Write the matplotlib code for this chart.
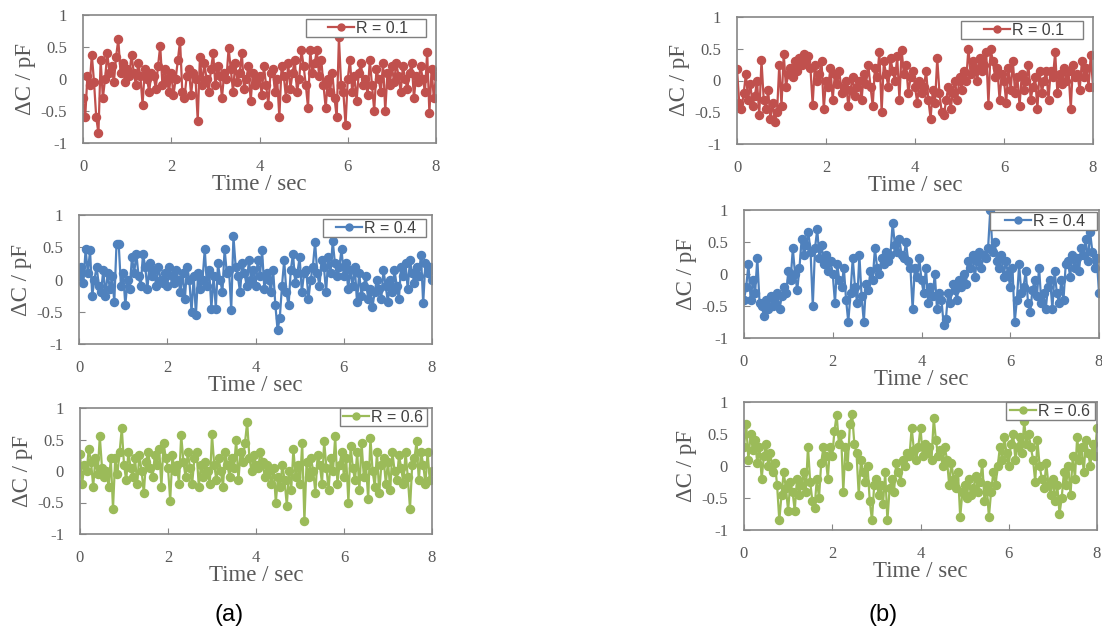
import numpy as np
import matplotlib.pyplot as plt
from matplotlib.ticker import FuncFormatter
from matplotlib.patches import Rectangle
from matplotlib.transforms import IdentityTransform

plt.rcParams['axes.unicode_minus'] = False

# time axis: 0 .. 8 s, 0.05 s step
t = np.arange(161) * 0.05

# (a) column
a_r01 = [-0.3, -0.6, 0.05, -0.1, 0.38, -0.05, -0.6, -0.85, 0.3, -0.3, 0.0, 0.4, 0.1, 0.2, -0.05, 0.35, 0.62, 0.1, 0.25, -0.05,
         0.15, 0.05, 0.38, 0.1, -0.1, 0.25, 0.05, -0.4, 0.15, 0.0, -0.2, 0.1, 0.05, -0.15, 0.2, 0.52, -0.1, 0.15, 0.0, -0.2,
         0.1, -0.25, 0.0, 0.3, 0.6, -0.2, -0.3, 0.05, 0.15, -0.25, 0.1, 0.0, -0.65, 0.35, -0.1, 0.25, 0.0, -0.2, 0.15, 0.4,
         -0.1, 0.2, 0.05, -0.3, 0.1, 0.0, 0.48, 0.15, -0.2, 0.25, -0.05, 0.1, 0.4, -0.15, 0.0, 0.2, -0.35, 0.1, -0.1, 0.0,
         0.05, -0.25, 0.2, -0.1, -0.4, 0.1, 0.15, -0.2, 0.0, -0.6, 0.2, 0.05, -0.3, 0.25, -0.15, 0.1, 0.3, -0.2, 0.0, 0.45,
         0.2, -0.1, -0.45, 0.45, 0.1, 0.25, 0.45, 0.05, 0.3, -0.1, -0.45, 0.0, -0.2, 0.1, -0.3, -0.6, 0.65, -0.1, -0.2, -0.72,
         0.0, 0.3, -0.2, 0.05, -0.35, 0.1, 0.25, -0.1, 0.0, -0.25, 0.3, -0.1, -0.5, 0.15, 0.0, -0.2, 0.25, -0.5, 0.1, -0.1,
         0.2, -0.05, 0.25, 0.05, -0.2, 0.2, 0.0, -0.15, 0.1, 0.25, -0.3, 0.05, -0.05, 0.2, 0.0, -0.2, 0.42, -0.53, 0.15, -0.3, 0.05]

a_r04 = [0.05, 0.2, -0.05, 0.47, 0.1, 0.45, -0.25, 0.0, 0.2, -0.1, -0.2, 0.15, -0.25, 0.1, -0.15, 0.05, -0.35, 0.55, 0.55, -0.1,
         0.1, -0.4, 0.0, -0.15, 0.35, 0.1, 0.4, 0.05, -0.1, 0.4, 0.2, -0.15, 0.25, 0.05, 0.15, -0.1, 0.2, 0.0, -0.05, 0.1,
         -0.1, 0.2, 0.05, -0.05, 0.15, 0.0, -0.2, 0.1, -0.3, 0.2, 0.0, -0.5, 0.05, -0.55, 0.1, -0.15, 0.0, 0.47, -0.1, 0.15,
         -0.45, 0.05, -0.45, 0.25, 0.0, -0.2, 0.47, 0.1, 0.15, -0.47, 0.67, 0.2, 0.05, -0.2, 0.25, 0.1, -0.1, 0.3, 0.0, 0.15,
         -0.1, 0.3, 0.05, 0.45, -0.15, 0.1, 0.0, -0.2, 0.15, -0.4, -0.78, -0.6, -0.1, 0.3, -0.2, -0.4, 0.15, 0.4, -0.05, 0.1,
         0.35, -0.2, 0.1, 0.15, -0.3, 0.0, 0.2, 0.58, 0.1, -0.1, 0.3, 0.2, -0.2, 0.35, 0.1, 0.6, 0.25, 0.05, 0.2, 0.47,
         0.05, 0.25, -0.15, 0.15, -0.1, 0.2, -0.35, 0.1, -0.25, -0.1, 0.05, -0.3, -0.15, -0.43, -0.2, 0.0, -0.15, -0.3, 0.15, -0.1,
         -0.35, 0.0, -0.2, 0.15, -0.1, -0.3, 0.2, 0.05, 0.25, -0.15, 0.3, 0.1, -0.05, 0.2, 0.05, 0.38, -0.37, 0.25, 0.1, 0.2, 0.0]

a_r06 = [0.27, -0.2, 0.1, 0.0, 0.35, 0.15, -0.25, 0.2, -0.05, 0.55, 0.05, -0.1, 0.0, -0.25, 0.2, -0.6, 0.2, -0.05, 0.3, 0.68,
         0.1, -0.15, 0.3, 0.05, -0.1, 0.2, -0.2, 0.25, 0.0, -0.35, 0.15, 0.3, 0.05, -0.1, 0.25, 0.1, 0.35, -0.25, 0.45, 0.2,
         0.05, -0.47, 0.25, 0.0, 0.1, -0.2, 0.57, 0.15, -0.1, 0.3, 0.05, -0.2, 0.2, 0.3, -0.25, 0.1, -0.1, 0.15, 0.0, -0.2,
         0.58, 0.1, -0.15, 0.2, 0.0, -0.25, 0.3, 0.1, -0.1, 0.2, 0.05, 0.5, -0.15, 0.3, 0.15, 0.45, 0.78, 0.2, 0.0, 0.25,
         0.1, 0.05, 0.3, 0.15, -0.1, 0.1, 0.0, -0.2, 0.05, -0.5, -0.1, -0.25, 0.1, -0.15, -0.55, 0.0, -0.3, 0.35, -0.1, 0.1,
         -0.2, 0.45, -0.8, 0.15, -0.1, 0.2, 0.0, -0.35, 0.25, 0.1, -0.2, 0.47, 0.05, -0.3, 0.2, 0.0, 0.55, -0.2, 0.1, 0.3,
         -0.1, 0.2, -0.5, 0.4, 0.05, -0.15, 0.3, -0.3, 0.45, -0.1, 0.1, -0.45, 0.53, 0.0, -0.25, 0.3, -0.35, 0.1, 0.2, -0.2,
         0.15, -0.3, 0.3, 0.0, -0.15, 0.25, 0.05, -0.2, 0.3, -0.1, -0.6, 0.1, 0.2, 0.47, -0.15, 0.3, 0.1, -0.2, 0.3, -0.15, 0.0]

# (b) column
b_r01 = [0.18, -0.35, -0.45, -0.2, 0.1, -0.3, -0.05, -0.4, -0.25, 0.0, -0.55, 0.32, -0.3, -0.45, -0.15, -0.6, -0.35, -0.65, -0.5, 0.25,
         -0.4, 0.42, -0.1, 0.1, 0.2, 0.05, 0.3, 0.15, 0.35, 0.25, 0.42, 0.3, 0.38, 0.2, -0.38, 0.25, 0.0, 0.1, 0.3, -0.45,
         0.0, -0.1, 0.2, -0.3, 0.1, -0.05, 0.15, -0.2, -0.1, 0.0, -0.4, -0.15, 0.05, -0.25, -0.1, 0.0, -0.3, 0.1, -0.05, 0.25,
         -0.1, -0.4, 0.2, 0.05, 0.45, -0.5, 0.3, 0.1, -0.1, 0.35, 0.15, 0.0, 0.38, -0.3, 0.48, 0.1, 0.25, -0.2, 0.05, 0.15,
         -0.1, -0.35, 0.0, -0.2, -0.1, 0.15, -0.3, -0.6, -0.15, -0.35, 0.35, -0.2, -0.5, -0.55, -0.3, -0.1, -0.45, -0.2, 0.0, -0.3,
         0.05, -0.15, 0.15, 0.0, 0.5, 0.1, 0.3, 0.2, 0.0, 0.35, 0.15, 0.25, 0.45, -0.38, 0.5, 0.3, 0.05, 0.2, -0.3, 0.1,
         0.0, -0.35, 0.2, -0.15, 0.3, -0.2, 0.05, -0.4, 0.1, -0.15, 0.0, 0.25, -0.3, -0.1, 0.05, -0.45, 0.15, -0.2, 0.0, 0.15,
         -0.3, 0.15, 0.05, 0.45, -0.2, 0.1, -0.05, 0.2, 0.0, 0.15, -0.45, 0.25, 0.05, 0.1, -0.15, 0.3, 0.05, 0.2, -0.1, 0.4, -0.1]

b_r04 = [-0.4, -0.2, 0.15, -0.4, -0.1, -0.3, 0.25, -0.45, -0.5, -0.65, -0.4, -0.55, -0.35, -0.5, -0.45, -0.3, -0.55, -0.35, -0.2, -0.3,
         0.05, -0.1, 0.4, 0.0, -0.25, 0.1, 0.55, 0.3, 0.45, 0.65, 0.35, -0.5, 0.4, 0.7, 0.25, 0.45, 0.15, 0.3, 0.05, 0.2,
         0.0, -0.45, 0.15, -0.1, -0.2, 0.1, -0.4, -0.75, -0.3, 0.25, -0.2, -0.45, 0.3, -0.35, -0.75, -0.15, -0.25, 0.05, -0.1, 0.4,
         0.1, 0.0, 0.25, 0.15, 0.35, 0.2, 0.3, 0.8, 0.45, 0.35, 0.55, 0.3, 0.25, 0.5, 0.2, 0.1, -0.55, 0.1, -0.05, 0.25,
         -0.1, -0.3, 0.1, -0.45, -0.2, -0.35, 0.0, -0.55, -0.3, -0.4, -0.8, -0.7, -0.3, -0.45, -0.15, -0.25, -0.4, -0.1, -0.2, 0.0,
         -0.15, 0.2, 0.1, 0.3, -0.05, 0.2, 0.35, 0.1, 0.3, 0.25, 0.4, 1.0, 0.35, 0.5, 0.2, 0.1, 0.3, -0.05, 0.2, 0.0,
         -0.2, 0.1, -0.75, -0.4, 0.15, -0.3, -0.2, 0.05, -0.45, -0.6, -0.25, -0.1, -0.35, 0.1, -0.45, -0.3, -0.55, -0.2, -0.1, -0.55,
         0.05, -0.3, -0.45, -0.1, -0.4, 0.15, 0.2, -0.05, 0.3, 0.1, 0.25, 0.05, 0.4, 0.3, 0.55, 0.2, 0.65, 0.35, 0.1, 0.25, -0.3]

b_r06 = [0.3, 0.65, 0.1, 0.5, 0.25, 0.4, 0.05, 0.3, -0.2, 0.15, 0.35, 0.0, 0.2, -0.1, 0.05, -0.3, -0.85, -0.45, -0.1, -0.35,
         -0.7, -0.25, -0.4, -0.7, -0.2, -0.45, -0.3, -0.1, -0.4, 0.3, -0.25, -0.55, -0.65, -0.2, -0.5, 0.05, 0.3, 0.15, -0.2, 0.3,
         0.15, 0.55, 0.8, 0.35, 0.5, -0.4, 0.3, 0.0, 0.65, 0.82, 0.35, 0.2, -0.45, 0.1, -0.1, -0.25, 0.0, -0.55, -0.85, -0.3,
         -0.2, -0.45, -0.3, -0.6, -0.1, -0.85, -0.35, -0.2, -0.4, 0.05, -0.1, -0.25, 0.1, 0.0, 0.2, 0.15, 0.6, 0.25, 0.1, 0.3,
         0.6, 0.15, 0.35, 0.2, 0.3, 0.1, 0.75, 0.4, 0.15, 0.25, 0.0, 0.3, 0.1, -0.3, 0.05, -0.2, -0.35, -0.1, -0.8, -0.4,
         -0.3, -0.5, -0.2, -0.45, -0.35, -0.15, -0.4, -0.25, 0.05, -0.55, -0.3, -0.8, -0.4, -0.1, -0.3, 0.0, 0.3, 0.1, 0.45, 0.2,
         0.0, 0.35, 0.5, 0.1, 0.3, 0.45, 0.2, 0.7, 0.35, 0.5, 0.3, 0.1, -0.25, 0.4, 0.0, -0.2, -0.35, 0.05, -0.3, -0.45,
         -0.2, -0.55, -0.3, -0.75, -0.5, -0.1, -0.3, 0.0, -0.45, 0.15, -0.2, 0.45, 0.1, 0.3, -0.1, 0.4, 0.2, 0.0, 0.35, 0.15, 0.6]

labels = ["R = 0.1", "R = 0.4", "R = 0.6"]
colors = ["#C0504D", "#4F81BD", "#9BBB59"]

W, H = 1102, 633
# axes boxes in pixels: left, right, top, bottom
boxes_a = [(83, 436, 15, 143), (79, 432, 215, 344), (80, 432, 408, 534)]
boxes_b = [(737, 1093, 17, 144), (744, 1099, 210, 338), (744, 1097, 402, 530)]
# legend placement in pixels: right margin, top margin, extra left pad, extra right pad
legs_a = [(10, 4, 21, 16), (6, 4, 12, 8), (5, 0, 2, 2)]
legs_b = [(10, 4, 22, 17), (2, 2, 14, 10), (2, 0, 3, 3)]

gray = "#595959"
serif = "Liberation Serif"

fig = plt.figure(figsize=(W / 100, H / 100), dpi=100)
legends = []


def panel(box, lg, y, label, color):
    l, r, top, bot = box
    ax = fig.add_axes([l / W, 1 - bot / H, (r - l) / W, (bot - top) / H])
    ax.plot(t, y, color=color, lw=1.6, marker="o", ms=5.8, label=label)
    ax.set_xlim(0, 8)
    ax.set_ylim(-1, 1)
    ax.set_xticks([0, 2, 4, 6, 8])
    ax.set_yticks([-1, -0.5, 0, 0.5, 1])
    ax.yaxis.set_major_formatter(FuncFormatter(lambda v, p: "%g" % v))
    ax.tick_params(direction="in", length=4, color="#868686", labelcolor=gray,
                   labelsize=12, pad=11.5)
    for lab in ax.get_xticklabels() + ax.get_yticklabels():
        lab.set_family(serif)
    for s in ax.spines.values():
        s.set_color("#868686")
        s.set_linewidth(1.2)
    ax.set_xlabel("Time / sec", family=serif, fontsize=16.5, color=gray, labelpad=-1)
    ax.set_ylabel("ΔC / pF", family=serif, fontsize=16.5, color=gray, labelpad=3)

    mr, mt, pl, pr = lg
    aw, ah = r - l, bot - top
    leg = ax.legend(loc="upper right", bbox_to_anchor=(1 - (mr + pr) / aw, 1 - mt / ah),
                    frameon=False, prop={"family": "Liberation Sans", "size": 11.5},
                    handlelength=1.6, borderpad=0.1, borderaxespad=0, handletextpad=0.15)
    for txt in leg.get_texts():
        txt.set_color("#404040")
    for h in leg.legend_handles:
        h.set_markersize(5)
    legends.append((ax, leg, pl, pr))


for box, lg, y, lab, c in zip(boxes_a, legs_a, [a_r01, a_r04, a_r06], labels, colors):
    panel(box, lg, y, lab, c)
for box, lg, y, lab, c in zip(boxes_b, legs_b, [b_r01, b_r04, b_r06], labels, colors):
    panel(box, lg, y, lab, c)

# square legend frames, wider than the contents like the original
fig.canvas.draw()
for ax, leg, pl, pr in legends:
    bb = leg.get_window_extent()
    ax.add_patch(Rectangle((bb.x0 - pl, bb.y0), bb.width + pl + pr, bb.height,
                           transform=IdentityTransform(), facecolor="white",
                           edgecolor="#7f7f7f", lw=1.0, zorder=4.5, clip_on=False))

fig.text(229 / W, 1 - 615 / H, "(a)", ha="center", va="center", fontsize=17, family="Liberation Sans")
fig.text(883 / W, 1 - 615 / H, "(b)", ha="center", va="center", fontsize=17, family="Liberation Sans")

fig.savefig("out.png", dpi=100, facecolor="white")
